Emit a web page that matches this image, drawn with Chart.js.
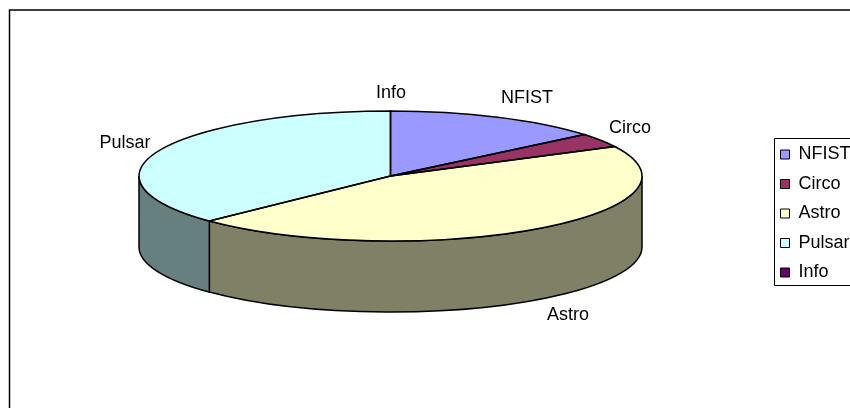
<!DOCTYPE html>
<html>
<head>
<meta charset="utf-8">
<style>
  html, body { margin: 0; padding: 0; background: #fff; }
  canvas { display: block; }
</style>
<script src="https://cdn.jsdelivr.net/npm/chart.js@4"></script>
</head>
<body>
<canvas id="pieChart" width="850" height="408"></canvas>
<script>
// --- DATA ---
const categories = ['NFIST', 'Circo', 'Astro', 'Pulsar', 'Info'];
const shares = [14, 3.5, 45.3, 37.2, 0];
const topColors = ['#9999FF', '#993366', '#FFFFCC', '#CCFFFF', '#660066'];
const sideColors = ['#4D4D80', '#4D1A33', '#808066', '#668080', '#330033'];

// --- LOOK ---
const FONT = '"Liberation Sans", Arial, sans-serif';
const FONT_SIZE = 18;
const pie = { cx: 390.5, cy: 176, rx: 251.5, ry: 65, depth: 71 };
// Excel "best fit" label spots, centre of each text
const labelSpots = {
    NFIST: [527, 98],
    Circo: [630, 128],
    Astro: [568, 315],
    Pulsar: [125, 143],
    Info: [391, 93]
};

function drawWalls(chart) {
    const ctx = chart.ctx;
    chart.getDatasetMeta(0).data.forEach((arc, i) => {
        // only the front half of the rim can be seen
        const from = Math.max(arc.startAngle, 0);
        const to = Math.min(arc.endAngle, Math.PI);
        if (to <= from) return;
        ctx.beginPath();
        ctx.ellipse(pie.cx, pie.cy, pie.rx, pie.ry, 0, from, to);
        ctx.ellipse(pie.cx, pie.cy + pie.depth, pie.rx, pie.ry, 0, to, from, true);
        ctx.closePath();
        ctx.fillStyle = sideColors[i];
        ctx.fill();
        ctx.strokeStyle = '#000';
        ctx.lineWidth = 1.5;
        ctx.stroke();
    });
}

function drawOutlines(chart) {
    const ctx = chart.ctx;
    ctx.strokeStyle = '#000';
    ctx.lineWidth = 1.5;
    chart.getDatasetMeta(0).data.forEach(arc => {
        if (arc.endAngle - arc.startAngle <= 0) return;
        ctx.beginPath();
        ctx.moveTo(pie.cx, pie.cy);
        ctx.ellipse(pie.cx, pie.cy, pie.rx, pie.ry, 0, arc.startAngle, arc.endAngle);
        ctx.closePath();
        ctx.stroke();
    });
}

const squashedPie = {
    id: 'squashedPie',
    afterLayout(chart) {
        // legend sits where the original has it, hanging over the right edge
        const legend = chart.legend;
        const w = legend.width, h = legend.height;
        legend.left = 769;
        legend.right = 769 + w;
        legend.top = 213.5 - h / 2;
        legend.bottom = legend.top + h;
    },
    beforeDatasetsDraw(chart) {
        drawWalls(chart);
    },
    beforeDatasetDraw(chart) {
        const arc = chart.getDatasetMeta(0).data[0];
        const ctx = chart.ctx;
        ctx.save();
        ctx.translate(pie.cx, pie.cy);
        ctx.scale(pie.rx / arc.outerRadius, pie.ry / arc.outerRadius);
        ctx.translate(-arc.x, -arc.y);
    },
    afterDatasetDraw(chart) {
        chart.ctx.restore();
    },
    afterDatasetsDraw(chart) {
        drawOutlines(chart);
    },
    afterDraw(chart) {
        const ctx = chart.ctx;
        ctx.save();
        ctx.strokeStyle = '#000';
        ctx.lineWidth = 1.5;
        // chart frame, cut off by the right and bottom of the picture
        ctx.beginPath();
        ctx.moveTo(9.5, 408);
        ctx.lineTo(9.5, 10);
        ctx.lineTo(850, 10);
        ctx.stroke();
        // legend frame
        ctx.lineWidth = 1;
        ctx.beginPath();
        ctx.moveTo(850, 138.5);
        ctx.lineTo(774.5, 138.5);
        ctx.lineTo(774.5, 285.5);
        ctx.lineTo(850, 285.5);
        ctx.stroke();
        // slice labels
        ctx.fillStyle = '#000';
        ctx.font = FONT_SIZE + 'px ' + FONT;
        ctx.textAlign = 'center';
        ctx.textBaseline = 'middle';
        categories.forEach(name => {
            const [x, y] = labelSpots[name];
            ctx.fillText(name, x, y);
        });
        ctx.restore();
    }
};

new Chart(document.getElementById('pieChart'), {
    type: 'pie',
    data: {
        labels: categories,
        datasets: [{
            data: shares,
            backgroundColor: topColors,
            borderWidth: 0,
            clip: false
        }]
    },
    options: {
        responsive: false,
        animation: false,
        plugins: {
            tooltip: { enabled: false },
            legend: {
                position: 'right',
                labels: {
                    boxWidth: 9,
                    boxHeight: 9,
                    padding: 11.5,
                    color: '#000',
                    font: { family: FONT, size: FONT_SIZE },
                    generateLabels(chart) {
                        return Chart.overrides.pie.plugins.legend.labels.generateLabels(chart)
                            .map(item => ({ ...item, lineWidth: 1, strokeStyle: '#000' }));
                    }
                }
            }
        }
    },
    plugins: [squashedPie]
});
</script>
</body>
</html>
